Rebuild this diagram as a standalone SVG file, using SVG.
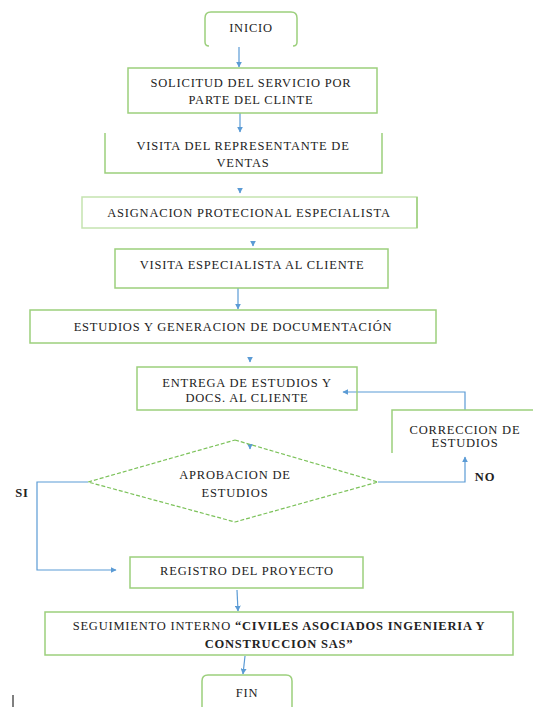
<svg xmlns="http://www.w3.org/2000/svg" width="533" height="707" viewBox="0 0 533 707">
<style>
.box{fill:none;stroke:#9ccf7c;stroke-width:1.5}
.t{font-family:'Liberation Serif','DejaVu Serif',serif;font-size:12.5px;letter-spacing:0.8px;fill:#222;text-anchor:middle}
.b{font-weight:bold}
.c{stroke:#5b9bd5;stroke-width:1.2;fill:none}
</style>
<defs>
<marker id="ah" viewBox="0 0 10 10" refX="9" refY="5" markerWidth="6" markerHeight="6" orient="auto" markerUnits="userSpaceOnUse">
<path d="M0,0 L10,5 L0,10 z" fill="#5b9bd5"/>
</marker>
</defs>
<rect width="533" height="707" fill="#fff"/>
<g id="connectors">
<path class="c" d="M239,47 V67" marker-end="url(#ah)"/>
<path class="c" d="M240,113 V132" marker-end="url(#ah)"/>
<path class="c" d="M240,188 V193" marker-end="url(#ah)"/>
<path class="c" d="M253,241 V246" marker-end="url(#ah)"/>
<path class="c" d="M238,288 V309" marker-end="url(#ah)"/>
<path class="c" d="M250,357 V362" marker-end="url(#ah)"/>
<path class="c" d="M250,444 V449" marker-end="url(#ah)"/>
<path class="c" d="M465,410 V392 H343" marker-end="url(#ah)"/>
<path class="c" d="M378,482 H465 V457" marker-end="url(#ah)"/>
<path class="c" d="M88,482 H37 V570 H116" marker-end="url(#ah)"/>
<path class="c" d="M237,590 L238,611" marker-end="url(#ah)"/>
<path class="c" d="M245,656 L243,674" marker-end="url(#ah)"/>
</g>
<g id="inicio">
<path class="box" d="M209,46 Q205,46 205,42 V18 Q205,12 211,12 H291 Q297,12 297,18 V42 Q297,46 293,46"/>
<text class="t" x="251" y="32">INICIO</text>
</g>
<g id="solicitud">
<rect class="box" x="128" y="68" width="249" height="45"/>
<text class="t" x="251" y="87">SOLICITUD DEL SERVICIO POR</text>
<text class="t" x="251" y="104">PARTE DEL CLINTE</text>
</g>
<g id="visita-rep">
<path class="box" d="M105,133 V173 H382 V133"/>
<text class="t" x="243" y="150">VISITA DEL REPRESENTANTE DE</text>
<text class="t" x="243" y="167">VENTAS</text>
</g>
<g id="asignacion">
<rect class="box" x="82" y="197" width="335" height="31" style="stroke:#c5e3b0"/>
<path class="box" d="M417,197 V228"/>
<text class="t" x="249" y="217">ASIGNACION PROTECIONAL ESPECIALISTA</text>
</g>
<g id="visita-esp">
<rect class="box" x="115" y="249" width="273" height="39"/>
<text class="t" x="252" y="269">VISITA ESPECIALISTA AL CLIENTE</text>
</g>
<g id="estudios">
<rect class="box" x="30" y="310" width="406" height="33"/>
<text class="t" x="233" y="331">ESTUDIOS Y GENERACION DE DOCUMENTACIÓN</text>
</g>
<g id="entrega">
<rect class="box" x="137" y="367" width="220" height="43"/>
<text class="t" x="247" y="387">ENTREGA DE ESTUDIOS Y</text>
<text class="t" x="247" y="402">DOCS. AL CLIENTE</text>
</g>
<g id="correccion">
<path class="box" d="M392,453 V410 H533"/>
<text class="t" x="465" y="434">CORRECCION DE</text>
<text class="t" x="465" y="447">ESTUDIOS</text>
</g>
<g id="aprobacion">
<polygon points="235,440 378,482 235,522 88,482" fill="none" stroke="#7cc25a" stroke-width="1.2" stroke-dasharray="4,2"/>
<text class="t" x="235" y="479">APROBACION DE</text>
<text class="t" x="235" y="497">ESTUDIOS</text>
</g>
<text class="t b" x="22" y="497">SI</text>
<text class="t b" x="485" y="481">NO</text>
<g id="registro">
<rect class="box" x="130" y="557" width="233" height="31"/>
<text class="t" x="247" y="575">REGISTRO DEL PROYECTO</text>
</g>
<g id="seguimiento">
<rect class="box" x="45" y="612" width="468" height="43"/>
<text class="t" x="279" y="630" style="letter-spacing:0.8px">SEGUIMIENTO INTERNO <tspan class="b">“CIVILES ASOCIADOS INGENIERIA Y</tspan></text>
<text class="t b" x="279" y="648" style="letter-spacing:0.8px">CONSTRUCCION SAS”</text>
</g>
<g id="fin">
<path class="box" d="M202,707 V681 Q202,675 208,675 H286 Q292,675 292,681 V707"/>
<text class="t" x="247" y="697">FIN</text>
</g>
<line x1="13" y1="695" x2="13" y2="707" stroke="#000" stroke-width="1"/>
</svg>
